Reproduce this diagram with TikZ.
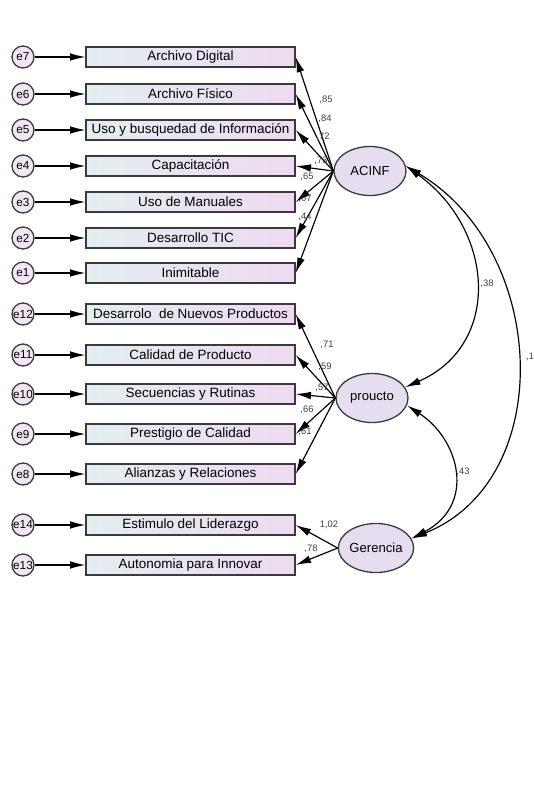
\documentclass[tikz,border=0pt]{standalone}
\usepackage{fontspec}
\setmainfont{Liberation Sans}
\usetikzlibrary{arrows.meta,shapes.geometric}
\definecolor{boxleft}{HTML}{E3EEF1}
\definecolor{boxright}{HTML}{EEDAF1}
\definecolor{latfill}{HTML}{E6DDF1}
\definecolor{errfill}{HTML}{F2E6F4}
\definecolor{edgegray}{HTML}{3A3A3A}
\tikzset{
    obs/.style={rectangle,draw=edgegray,line width=1.1pt,left color=boxleft,right color=boxright,
        minimum width=6.27cm,minimum height=0.6cm,inner sep=0pt,font=\fontsize{11.5}{13}\selectfont},
    latent/.style={ellipse,draw=edgegray,line width=1.1pt,fill=latfill,
        minimum width=2.16cm,minimum height=1.47cm,inner sep=0pt,font=\fontsize{11.2}{13}\selectfont},
    err/.style={circle,draw=edgegray,line width=1.1pt,fill=errfill,minimum size=0.66cm,
        inner sep=0pt,font=\fontsize{10}{12}\selectfont},
    load/.style={-{Latex[length=4.6mm,width=2.3mm]},line width=1pt,draw=black},
    cov/.style={{Latex[length=4.6mm,width=2.3mm]}-{Latex[length=4.6mm,width=2.3mm]},line width=1pt,draw=black},
    coef/.style={font=\fontsize{8}{9}\selectfont,inner sep=0pt,text=black!75},
}

\begin{document}
\begin{tikzpicture}[x=0.03cm,y=-0.03cm]
    \useasboundingbox[fill=white] (0,0) rectangle (534,810);

    % indicadores
    \node[obs] (v7) at (190.5,57) {Archivo Digital};
    \node[obs] (v6) at (190.5,94) {Archivo Físico};
    \node[obs] (v5) at (190.5,130) {Uso y busquedad de Información};
    \node[obs] (v4) at (190.5,166) {Capacitación};
    \node[obs] (v3) at (190.5,202) {Uso de Manuales};
    \node[obs] (v2) at (190.5,238) {Desarrollo TIC};
    \node[obs] (v1) at (190.5,273) {Inimitable};
    \node[obs] (v12) at (190.5,314) {Desarrolo\ \ de Nuevos Productos};
    \node[obs] (v11) at (190.5,355) {Calidad de Producto};
    \node[obs] (v10) at (190.5,394) {Secuencias y Rutinas};
    \node[obs] (v9) at (190.5,434) {Prestigio de Calidad};
    \node[obs] (v8) at (190.5,474) {Alianzas y Relaciones};
    \node[obs] (v14) at (190.5,525) {Estimulo del Liderazgo};
    \node[obs] (v13) at (190.5,565) {Autonomia para Innovar};

    % errores
    \node[err] (e7) at (23,57) {e7};
    \node[err] (e6) at (23,94) {e6};
    \node[err] (e5) at (23,130) {e5};
    \node[err] (e4) at (23,166) {e4};
    \node[err] (e3) at (23,202) {e3};
    \node[err] (e2) at (23,238) {e2};
    \node[err] (e1) at (23,273) {e1};
    \node[err] (e12) at (23,314) {e12};
    \node[err] (e11) at (23,355) {e11};
    \node[err] (e10) at (23,394) {e10};
    \node[err] (e9) at (23,434) {e9};
    \node[err] (e8) at (23,474) {e8};
    \node[err] (e14) at (23,525) {e14};
    \node[err] (e13) at (23,565) {e13};

    \draw[load] (e7) -- (v7);
    \draw[load] (e6) -- (v6);
    \draw[load] (e5) -- (v5);
    \draw[load] (e4) -- (v4);
    \draw[load] (e3) -- (v3);
    \draw[load] (e2) -- (v2);
    \draw[load] (e1) -- (v1);
    \draw[load] (e12) -- (v12);
    \draw[load] (e11) -- (v11);
    \draw[load] (e10) -- (v10);
    \draw[load] (e9) -- (v9);
    \draw[load] (e8) -- (v8);
    \draw[load] (e14) -- (v14);
    \draw[load] (e13) -- (v13);

    % factores
    \node[latent] (ACINF) at (370,171) {ACINF};
    \node[latent] (proucto) at (372,398) {proucto};
    \node[latent] (Gerencia) at (376,548) {Gerencia};

    \draw[load] (ACINF.west) -- (v7.east);
    \draw[load] (ACINF.west) -- (v6.east);
    \draw[load] (ACINF.west) -- (v5.east);
    \draw[load] (ACINF.west) -- (v4.east);
    \draw[load] (ACINF.west) -- (v3.east);
    \draw[load] (ACINF.west) -- (v2.east);
    \draw[load] (ACINF.west) -- (v1.east);
    \draw[load] (proucto.west) -- (v12.east);
    \draw[load] (proucto.west) -- (v11.east);
    \draw[load] (proucto.west) -- (v10.east);
    \draw[load] (proucto.west) -- (v9.east);
    \draw[load] (proucto.west) -- (v8.east);
    \draw[load] (Gerencia.west) -- (v14.east);
    \draw[load] (Gerencia.west) -- (v13.east);

    \node[coef] (c7) at (326,100) {,85};
    \node[coef] (c6) at (325,119) {,84};
    \node[coef] (c5) at (323,137) {,72};
    \node[coef] (c4) at (321,161) {,73};
    \node[coef] (c3) at (307,177) {,65};
    \node[coef] (c2) at (305,199) {,67};
    \node[coef] (c1) at (305,217) {,44};
    \node[coef] (c12) at (327,345) {,71};
    \node[coef] (c11) at (325,367) {,59};
    \node[coef] (c10) at (322,388) {,57};
    \node[coef] (c9) at (307,410) {,66};
    \node[coef] (c8) at (305,432) {,61};
    \node[coef] (c14) at (329,525) {1,02};
    \node[coef] (c13) at (311,549) {,78};

    % covarianzas
    \draw[cov] (ACINF.8) .. controls (495,230) and (502,345) .. (proucto.18);
    \draw[cov] (ACINF.8) .. controls (548,250) and (558,480) .. (Gerencia.15);
    \draw[cov] (proucto.-12) .. controls (460,440) and (476,505) .. (Gerencia.15);
    \node[coef] (r1) at (487,284) {,38};
    \node[coef,anchor=west] (r2) at (526,357) {,1};
    \node[coef] (r3) at (463,472) {,43};
\end{tikzpicture}
\end{document}
